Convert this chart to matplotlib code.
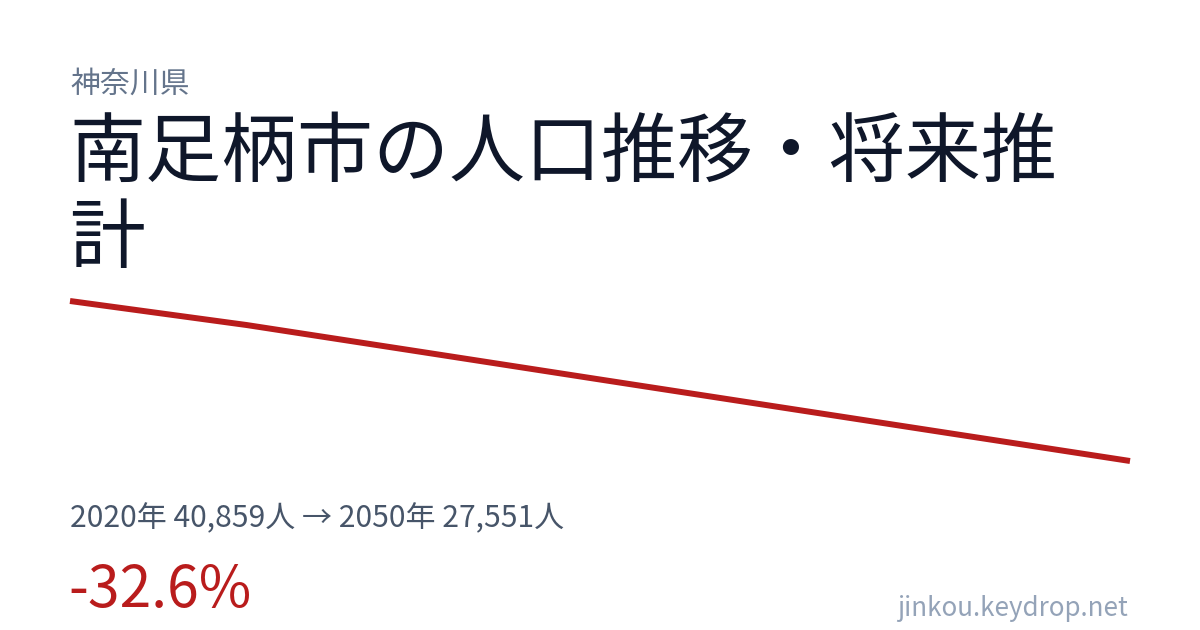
import numpy as np
import matplotlib
matplotlib.use("Agg")
import matplotlib.pyplot as plt

# data
years      = [2020, 2025, 2030, 2035, 2040, 2045, 2050]
population = [40859, 38860, 36600, 34330, 32070, 29810, 27551]

pref_name  = "神奈川県"
title_l1   = "南足柄市の人口推移・将来推"
title_l2   = "計"
summary    = "2020年 40,859人 → 2050年 27,551人"
change     = "-32.6%"
site       = "jinkou.keydrop.net"

plt.rcParams['font.family'] = ['Noto Sans CJK JP', 'DejaVu Sans']

W, H = 1200, 630
fig = plt.figure(figsize=(W/100, H/100), dpi=100)
fig.patch.set_facecolor('white')

def fx(px): return px / W
def fy(py): return 1 - py / H

# trend line
ax = fig.add_axes([fx(70), fy(461), fx(1130) - fx(70), fy(301) - fy(461)])
ax.plot(years, population, color='#b91c1c', linewidth=4.3, solid_capstyle='butt', clip_on=False)
ax.set_xlim(years[0], years[-1])
ax.set_ylim(min(population), max(population))
ax.axis('off')

# texts
fig.text(fx(70), fy(84), pref_name, fontsize=21.5, color='#64748b', va='center', ha='left')
fig.text(fx(69), fy(154), title_l1, fontsize=54.7, color='#0f172a', va='center', ha='left')
fig.text(fx(69), fy(240), title_l2, fontsize=54.7, color='#0f172a', va='center', ha='left')
fig.text(fx(70), fy(519), summary, fontsize=21.6, color='#475569', va='center', ha='left')
fig.text(fx(68), fy(591), change, fontsize=41, color='#b91c1c', va='center', ha='left')
fig.text(fx(1128), fy(608), site, fontsize=18.7, color='#94a3b8', va='center', ha='right')

fig.savefig("out.png", dpi=100)
